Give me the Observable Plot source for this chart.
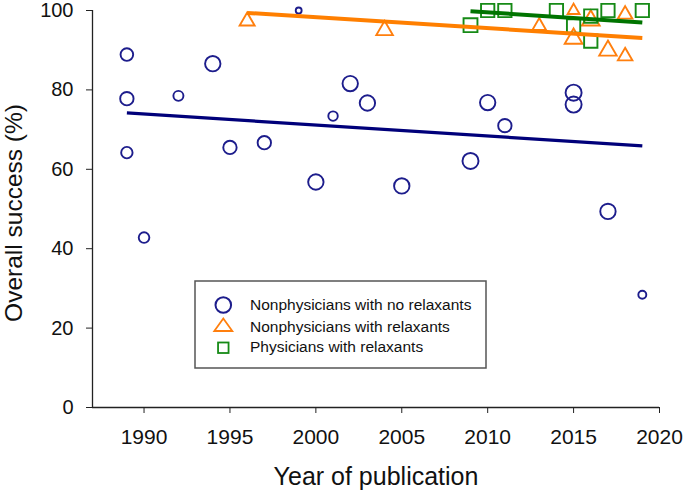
<!DOCTYPE html>
<html>
<head>
<meta charset="utf-8">
<script src="https://cdn.jsdelivr.net/npm/d3@7"></script>
<script src="https://cdn.jsdelivr.net/npm/@observablehq/plot@0.6"></script>
<style>
  html, body { margin: 0; padding: 0; background: #fff; }
  #chart { position: relative; width: 685px; height: 492px; }
  #chart svg { display: block; }
  #legend { position: absolute; left: 0; top: 0; pointer-events: none; }
</style>
</head>
<body>
<div id="chart"></div>
<script>
// ---- data ----
const seriesNames = ["Nonphysicians with no relaxants", "Nonphysicians with relaxants", "Physicians with relaxants"];
const xTitle = "Year of publication";
const yTitle = "Overall success (%)";
const xTicks = [1990, 1995, 2000, 2005, 2010, 2015, 2020];
const yTicks = [0, 20, 40, 60, 80, 100];

// Nonphysicians with no relaxants (circles); weight = relative study weight
const noRelaxYear  = [1989, 1989, 1989, 1990, 1992, 1994, 1995, 1997, 1999, 2000, 2001, 2002, 2003, 2005, 2009, 2010, 2011, 2015, 2015, 2017, 2019];
const noRelaxValue = [88.9, 77.8, 64.2, 42.8, 78.5, 86.6, 65.5, 66.7, 100, 56.8, 73.4, 81.6, 76.7, 55.8, 62.1, 76.8, 71.0, 79.3, 76.3, 49.4, 28.4];
const noRelaxWeight = [55, 62, 45, 39, 35, 82, 62, 62, 12, 82, 31, 82, 82, 82, 89, 82, 62, 89, 89, 82, 22];

// Nonphysicians with relaxants (triangles)
const relaxYear  = [1996, 2004, 2013, 2015, 2015, 2016, 2017, 2018, 2018];
const relaxValue = [97.3, 95.0, 96.1, 100, 92.9, 97.5, 89.9, 99.0, 88.5];
const relaxWeight = [43, 52, 36, 27, 60, 60, 58, 40, 40];

// Physicians with relaxants (squares)
const physYear  = [2009, 2010, 2011, 2014, 2015, 2016, 2016, 2017, 2019];
const physValue = [96.3, 100, 100, 100, 96.1, 98.6, 92.3, 100, 100];
const physWeight = [85, 78, 78, 78, 78, 78, 78, 78, 78];

// Fitted trend lines (start/end year and fitted value)
const trendSeries = [0, 1, 2];
const trendYearStart = [1989, 1996, 2009];
const trendYearEnd   = [2019, 2019, 2019];
const trendValStart  = [74.2, 99.4, 99.8];
const trendValEnd    = [65.9, 93.1, 97.0];

// ---- styles ----
const dotColors = ["#1d1d8c", "#ff7f0e", "#168a16"];
const lineColors = ["#00007a", "#ff7f00", "#007400"];
const symbols = ["circle", "triangle", "square"];
const font = "'Liberation Sans', Arial, Helvetica, sans-serif";

const rows = (ys, vs, ws) => ys.map((y, i) => ({year: y, value: vs[i], w: ws[i]}));
const groups = [
  rows(noRelaxYear, noRelaxValue, noRelaxWeight),
  rows(relaxYear, relaxValue, relaxWeight),
  rows(physYear, physValue, physWeight)
];
const trends = trendSeries.map((s, i) => ({
  s, x1: trendYearStart[i], x2: trendYearEnd[i], y1: trendValStart[i], y2: trendValEnd[i]
}));

const plot = Plot.plot({
  width: 685,
  height: 492,
  marginLeft: 92,
  marginRight: 26,
  marginTop: 10,
  marginBottom: 85,
  style: {fontFamily: font, color: "#111", background: "white", overflow: "visible"},
  x: {domain: [1987, 2020]},
  y: {domain: [0, 100]},
  r: {domain: [0, 100], range: [0, 8.5]},
  marks: [
    Plot.ruleY([0], {stroke: "#222", strokeWidth: 1.3}),
    Plot.ruleX([1987], {stroke: "#222", strokeWidth: 1.3}),
    Plot.axisX({ticks: xTicks, tickFormat: d => String(d), tickSize: 6, tickPadding: 16, fontSize: 21, label: null, stroke: "#222"}),
    Plot.axisY({ticks: yTicks, tickSize: 6, tickPadding: 13, fontSize: 20, label: null, stroke: "#222"}),
    Plot.text([xTitle], {text: d => d, frameAnchor: "bottom", textAnchor: "middle", lineAnchor: "top", dy: 60, fontSize: 25, fill: "#111"}),
    Plot.text([yTitle], {text: d => d, frameAnchor: "left", textAnchor: "middle", rotate: -90, lineAnchor: "middle", dx: -78, dy: 4, fontSize: 24.5, fill: "#111"}),
    ...groups.map((g, i) => Plot.dot(g, {
      x: "year", y: "value", r: "w", symbol: () => symbols[i],
      stroke: dotColors[i], strokeWidth: 1.9, fill: "none"
    })),
    Plot.link(trends, {
      x1: "x1", x2: "x2", y1: "y1", y2: "y2",
      stroke: d => lineColors[d.s], strokeWidth: d => d.s === 0 ? 3.2 : 4
    })
  ]
});
document.getElementById("chart").appendChild(plot);

// ---- legend overlay ----
const leg = d3.select("#chart").append("svg")
  .attr("id", "legend").attr("width", 685).attr("height", 492);
leg.append("rect").attr("x", 195).attr("y", 281).attr("width", 291).attr("height", 87)
  .attr("fill", "none").attr("stroke", "#555").attr("stroke-width", 1.5);
const lx = 223.3;
leg.append("circle").attr("cx", lx).attr("cy", 305).attr("r", 7.8)
  .attr("fill", "none").attr("stroke", dotColors[0]).attr("stroke-width", 2);
leg.append("path").attr("d", `M${lx},318.5L${lx + 9},331L${lx - 9},331Z`)
  .attr("fill", "none").attr("stroke", dotColors[1]).attr("stroke-width", 1.8);
leg.append("rect").attr("x", lx - 5.25).attr("y", 342.5).attr("width", 10.5).attr("height", 10.5)
  .attr("fill", "none").attr("stroke", dotColors[2]).attr("stroke-width", 1.8);
const baselines = [310, 331.5, 352];
seriesNames.forEach((name, i) => {
  leg.append("text").attr("x", 250).attr("y", baselines[i])
    .attr("font-family", font).attr("font-size", 15.5).attr("fill", "#111").text(name);
});
</script>
</body>
</html>
